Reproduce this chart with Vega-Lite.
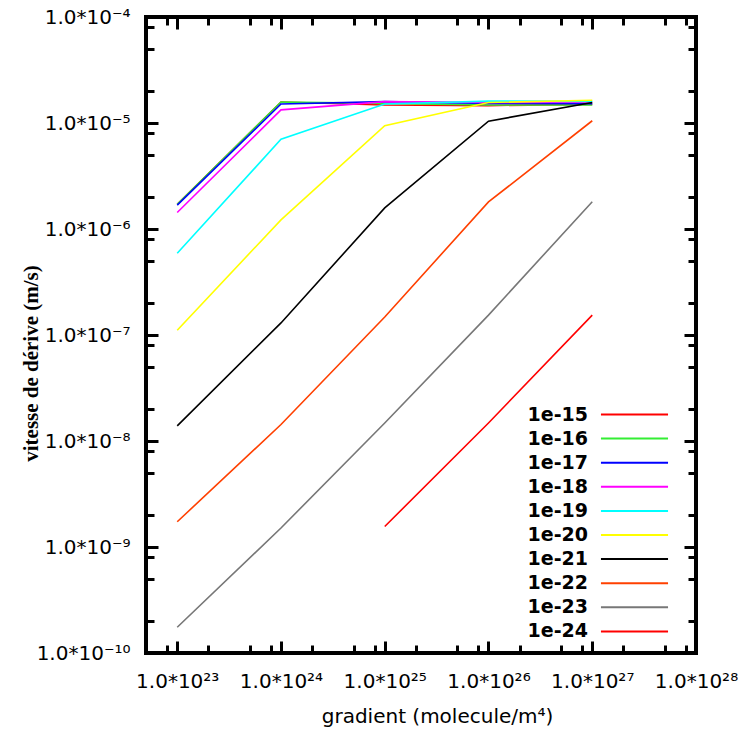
{
  "$schema": "https://vega.github.io/schema/vega-lite/v6.json",
  "width": 550,
  "height": 636,
  "autosize": {"type": "none"},
  "padding": {"left": 146, "top": 17, "right": 44, "bottom": 77},
  "background": "white",
  "config": {
    "view": {"stroke": "black", "strokeWidth": 4},
    "font": "DejaVu Sans"
  },
  "data": {
    "values": [
      {"g": 1e23, "v": 1.71e-6, "s": "1e-15"},
      {"g": 1e24, "v": 1.58e-5, "s": "1e-15"},
      {"g": 1e25, "v": 1.48e-5, "s": "1e-15"},
      {"g": 1e26, "v": 1.46e-5, "s": "1e-15"},
      {"g": 1e27, "v": 1.5e-5, "s": "1e-15"},
      {"g": 1e23, "v": 1.71e-6, "s": "1e-16"},
      {"g": 1e24, "v": 1.58e-5, "s": "1e-16"},
      {"g": 1e25, "v": 1.53e-5, "s": "1e-16"},
      {"g": 1e26, "v": 1.48e-5, "s": "1e-16"},
      {"g": 1e27, "v": 1.48e-5, "s": "1e-16"},
      {"g": 1e23, "v": 1.68e-6, "s": "1e-17"},
      {"g": 1e24, "v": 1.51e-5, "s": "1e-17"},
      {"g": 1e25, "v": 1.59e-5, "s": "1e-17"},
      {"g": 1e26, "v": 1.53e-5, "s": "1e-17"},
      {"g": 1e27, "v": 1.52e-5, "s": "1e-17"},
      {"g": 1e23, "v": 1.43e-6, "s": "1e-18"},
      {"g": 1e24, "v": 1.33e-5, "s": "1e-18"},
      {"g": 1e25, "v": 1.59e-5, "s": "1e-18"},
      {"g": 1e26, "v": 1.56e-5, "s": "1e-18"},
      {"g": 1e27, "v": 1.57e-5, "s": "1e-18"},
      {"g": 1e23, "v": 5.9e-7, "s": "1e-19"},
      {"g": 1e24, "v": 7.02e-6, "s": "1e-19"},
      {"g": 1e25, "v": 1.51e-5, "s": "1e-19"},
      {"g": 1e26, "v": 1.61e-5, "s": "1e-19"},
      {"g": 1e27, "v": 1.6e-5, "s": "1e-19"},
      {"g": 1e23, "v": 1.11e-7, "s": "1e-20"},
      {"g": 1e24, "v": 1.22e-6, "s": "1e-20"},
      {"g": 1e25, "v": 9.43e-6, "s": "1e-20"},
      {"g": 1e26, "v": 1.56e-5, "s": "1e-20"},
      {"g": 1e27, "v": 1.64e-5, "s": "1e-20"},
      {"g": 1e23, "v": 1.39e-8, "s": "1e-21"},
      {"g": 1e24, "v": 1.3e-7, "s": "1e-21"},
      {"g": 1e25, "v": 1.58e-6, "s": "1e-21"},
      {"g": 1e26, "v": 1.04e-5, "s": "1e-21"},
      {"g": 1e27, "v": 1.56e-5, "s": "1e-21"},
      {"g": 1e23, "v": 1.73e-9, "s": "1e-22"},
      {"g": 1e24, "v": 1.43e-8, "s": "1e-22"},
      {"g": 1e25, "v": 1.48e-7, "s": "1e-22"},
      {"g": 1e26, "v": 1.8e-6, "s": "1e-22"},
      {"g": 1e27, "v": 1.05e-5, "s": "1e-22"},
      {"g": 1e23, "v": 1.75e-10, "s": "1e-23"},
      {"g": 1e24, "v": 1.51e-9, "s": "1e-23"},
      {"g": 1e25, "v": 1.48e-8, "s": "1e-23"},
      {"g": 1e26, "v": 1.54e-7, "s": "1e-23"},
      {"g": 1e27, "v": 1.81e-6, "s": "1e-23"},
      {"g": 1e25, "v": 1.56e-9, "s": "1e-24"},
      {"g": 1e26, "v": 1.48e-8, "s": "1e-24"},
      {"g": 1e27, "v": 1.54e-7, "s": "1e-24"}
    ]
  },
  "resolve": {"axis": {"x": "independent", "y": "independent"}},
  "layer": [
    {
      "mark": {"type": "line", "strokeWidth": 1.6, "clip": true},
      "encoding": {
        "x": {
          "field": "g", "type": "quantitative",
          "scale": {"type": "log", "domain": [5e22, 1e28], "nice": false},
          "axis": {
            "orient": "bottom",
            "values": [8e22, 1e23, 2e23, 5e23, 8e23, 1e24, 2e24, 5e24, 8e24, 1e25, 2e25, 5e25, 8e25, 1e26, 2e26, 5e26, 8e26, 1e27, 2e27, 5e27, 8e27, 1e28],
            "labelExpr": "datum.value == 1e23 ? '1.0*10²³' : datum.value == 1e24 ? '1.0*10²⁴' : datum.value == 1e25 ? '1.0*10²⁵' : datum.value == 1e26 ? '1.0*10²⁶' : datum.value == 1e27 ? '1.0*10²⁷' : datum.value == 1e28 ? '1.0*10²⁸' : ''",
            "labelFont": "DejaVu Sans", "labelFontSize": 20, "labelColor": "black",
            "labelPadding": 30, "labelFlush": false, "labelOverlap": false,
            "domain": false, "grid": false,
            "tickColor": "black", "tickWidth": 3,
            "tickSize": {"condition": {"test": "abs(log(datum.value)/LN10 - round(log(datum.value)/LN10)) < 0.01", "value": -12}, "value": -8},
            "title": "gradient (molecule/m⁴)",
            "titleFont": "DejaVu Sans", "titleFontSize": 20, "titleFontWeight": "normal", "titleColor": "black",
            "titleX": 291, "titleY": 63, "titleBaseline": "middle", "titleAnchor": "middle"
          }
        },
        "y": {
          "field": "v", "type": "quantitative",
          "scale": {"type": "log", "domain": [1e-10, 1e-4], "nice": false},
          "axis": {
            "orient": "left",
            "values": [1e-10, 2e-10, 5e-10, 8e-10, 1e-9, 2e-9, 5e-9, 8e-9, 1e-8, 2e-8, 5e-8, 8e-8, 1e-7, 2e-7, 5e-7, 8e-7, 1e-6, 2e-6, 5e-6, 8e-6, 1e-5, 2e-5, 5e-5, 8e-5, 1e-4],
            "labelExpr": "datum.value == 1e-10 ? '1.0*10⁻¹⁰' : datum.value == 1e-9 ? '1.0*10⁻⁹' : datum.value == 1e-8 ? '1.0*10⁻⁸' : datum.value == 1e-7 ? '1.0*10⁻⁷' : datum.value == 1e-6 ? '1.0*10⁻⁶' : datum.value == 1e-5 ? '1.0*10⁻⁵' : datum.value == 1e-4 ? '1.0*10⁻⁴' : ''",
            "labelFont": "DejaVu Sans", "labelFontSize": 20, "labelColor": "black",
            "labelPadding": 28, "labelFlush": false, "labelOverlap": false,
            "domain": false, "grid": false,
            "tickColor": "black", "tickWidth": 3,
            "tickSize": {"condition": {"test": "abs(log(datum.value)/LN10 - round(log(datum.value)/LN10)) < 0.01", "value": -12}, "value": -8},
            "title": "vitesse de dérive (m/s)",
            "titleFont": "Liberation Serif", "titleFontSize": 21, "titleFontWeight": "bold", "titleColor": "black",
            "titleX": -115, "titleY": 346, "titleBaseline": "middle", "titleAnchor": "middle", "titleAngle": -90
          }
        },
        "color": {
          "field": "s", "type": "nominal", "sort": null,
          "scale": {
            "domain": ["1e-15", "1e-16", "1e-17", "1e-18", "1e-19", "1e-20", "1e-21", "1e-22", "1e-23", "1e-24"],
            "range": ["#ff0000", "#33ee33", "#0000ff", "#ff00ff", "#00ffff", "#ffff00", "#000000", "#ff4000", "#777777", "#ff0000"]
          },
          "legend": {
            "orient": "none", "legendX": 476, "legendY": 385,
            "title": null, "padding": 0,
            "symbolType": "M-3,0H3", "symbolSize": 500, "symbolStrokeWidth": 2, "symbolFillColor": "transparent",
            "labelFont": "DejaVu Sans", "labelFontSize": 19, "labelFontWeight": "bold", "labelColor": "black",
            "labelAlign": "right", "labelOffset": -59,
            "rowPadding": 1.1, "labelLimit": 0
          }
        }
      }
    },
    {
      "mark": {"type": "point", "opacity": 0},
      "encoding": {
        "x": {
          "field": "g", "type": "quantitative",
          "scale": {"type": "log", "domain": [5e22, 1e28], "nice": false},
          "axis": {
            "orient": "top",
            "values": [8e22, 1e23, 2e23, 5e23, 8e23, 1e24, 2e24, 5e24, 8e24, 1e25, 2e25, 5e25, 8e25, 1e26, 2e26, 5e26, 8e26, 1e27, 2e27, 5e27, 8e27, 1e28],
            "labels": false, "domain": false, "grid": false, "title": null,
            "tickColor": "black", "tickWidth": 3,
            "tickSize": {"condition": {"test": "abs(log(datum.value)/LN10 - round(log(datum.value)/LN10)) < 0.01", "value": -12}, "value": -8}
          }
        },
        "y": {
          "field": "v", "type": "quantitative",
          "scale": {"type": "log", "domain": [1e-10, 1e-4], "nice": false},
          "axis": {
            "orient": "right",
            "values": [1e-10, 2e-10, 5e-10, 8e-10, 1e-9, 2e-9, 5e-9, 8e-9, 1e-8, 2e-8, 5e-8, 8e-8, 1e-7, 2e-7, 5e-7, 8e-7, 1e-6, 2e-6, 5e-6, 8e-6, 1e-5, 2e-5, 5e-5, 8e-5, 1e-4],
            "labels": false, "domain": false, "grid": false, "title": null,
            "tickColor": "black", "tickWidth": 3,
            "tickSize": {"condition": {"test": "abs(log(datum.value)/LN10 - round(log(datum.value)/LN10)) < 0.01", "value": -12}, "value": -8}
          }
        }
      }
    }
  ]
}
